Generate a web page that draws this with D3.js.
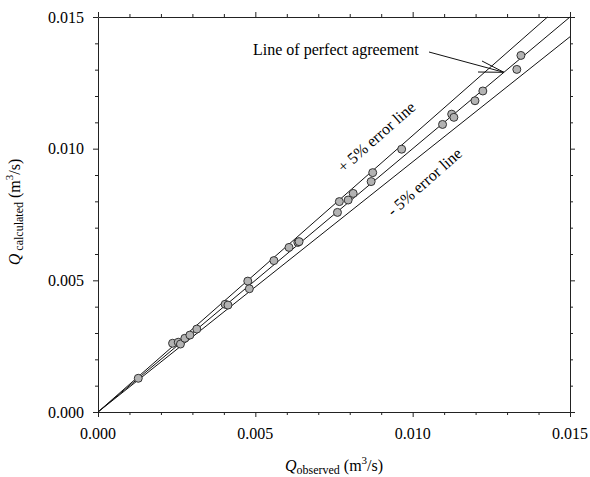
<!DOCTYPE html>
<html>
<head>
<meta charset="utf-8">
<script src="https://cdn.jsdelivr.net/npm/d3@7"></script>
<style>
  body { margin: 0; background: #fff; }
</style>
</head>
<body>
<div id="chart"></div>
<script>
// measured vs computed discharge (m3/s)
var qObserved = [0.00128, 0.00237, 0.00255, 0.00262, 0.00276, 0.00292, 0.00314,
  0.00404, 0.00413, 0.00476, 0.00481, 0.00559, 0.00607, 0.00635, 0.00639,
  0.00761, 0.00767, 0.00795, 0.00811, 0.00868, 0.00873, 0.00965,
  0.01095, 0.01124, 0.01131, 0.01198, 0.01223, 0.01331, 0.01344];
var qCalculated = [0.00128, 0.00261, 0.00265, 0.00258, 0.00280, 0.00292, 0.00315,
  0.00409, 0.00406, 0.00497, 0.00468, 0.00575, 0.00625, 0.00644, 0.00647,
  0.00758, 0.00799, 0.00805, 0.00830, 0.00875, 0.00909, 0.00998,
  0.01092, 0.01131, 0.01119, 0.01182, 0.01219, 0.01301, 0.01354];

var majorTicks = [0, 0.005, 0.010, 0.015];
var minorTicks = d3.range(0, 16).map(function (i) { return i / 1000; });
var lineFactors = [1, 1.05, 0.95];

var width = 590, height = 477;
var margin = { top: 17, right: 20, bottom: 65, left: 98 };
var serif = "'Liberation Serif', 'DejaVu Serif', serif";

var svg = d3.select("#chart")
  .append("svg")
  .attr("width", width)
  .attr("height", height)
  .attr("font-family", serif);

var x = d3.scaleLinear().domain([0, 0.015]).range([margin.left, width - margin.right]);
var y = d3.scaleLinear().domain([0, 0.015]).range([height - margin.bottom, margin.top]);

var fmt = d3.format(".3f");

// axes on all four sides, ticks outward
function tickSize(d) {
  return majorTicks.some(function (m) { return Math.abs(m - d) < 1e-9; }) ? 5 : 3;
}

svg.append("g")
  .attr("transform", "translate(0," + y(0) + ")")
  .call(d3.axisBottom(x).tickValues(minorTicks).tickSizeOuter(0).tickFormat(""))
  .call(function (g) { g.selectAll(".tick line").attr("y2", function (d) { return tickSize(d); }); });
svg.append("g")
  .attr("transform", "translate(0," + y(0.015) + ")")
  .call(d3.axisTop(x).tickValues(minorTicks).tickSizeOuter(0).tickFormat(""))
  .call(function (g) { g.selectAll(".tick line").attr("y2", function (d) { return -tickSize(d); }); });
svg.append("g")
  .attr("transform", "translate(" + x(0) + ",0)")
  .call(d3.axisLeft(y).tickValues(minorTicks).tickSizeOuter(0).tickFormat(""))
  .call(function (g) { g.selectAll(".tick line").attr("x2", function (d) { return -tickSize(d); }); });
svg.append("g")
  .attr("transform", "translate(" + x(0.015) + ",0)")
  .call(d3.axisRight(y).tickValues(minorTicks).tickSizeOuter(0).tickFormat(""))
  .call(function (g) { g.selectAll(".tick line").attr("x2", function (d) { return tickSize(d); }); });

svg.selectAll(".domain").attr("stroke", "#222");
svg.selectAll(".tick line").attr("stroke", "#222");

// tick labels
svg.append("g").selectAll("text")
  .data(majorTicks)
  .enter()
  .append("text")
  .attr("x", function (d) { return x(d); })
  .attr("y", y(0) + 27)
  .attr("text-anchor", "middle")
  .attr("font-family", serif)
  .attr("font-size", 16)
  .text(fmt);

svg.append("g").selectAll("text")
  .data(majorTicks)
  .enter()
  .append("text")
  .attr("x", x(0) - 14)
  .attr("y", function (d) { return y(d) + 5.5; })
  .attr("text-anchor", "end")
  .attr("font-family", serif)
  .attr("font-size", 16)
  .text(fmt);

// reference lines
var lineGroup = svg.append("g");
lineFactors.forEach(function (f) {
  var xEnd = Math.min(0.015, 0.015 / f);
  lineGroup.append("line")
    .attr("x1", x(0)).attr("y1", y(0))
    .attr("x2", x(xEnd)).attr("y2", y(xEnd * f))
    .attr("stroke", "#111")
    .attr("stroke-width", 1);
});

// data points
var points = qObserved.map(function (d, i) { return { obs: d, calc: qCalculated[i] }; });
svg.append("g").selectAll("circle")
  .data(points)
  .enter()
  .append("circle")
  .attr("cx", function (d) { return x(d.obs); })
  .attr("cy", function (d) { return y(d.calc); })
  .attr("r", 4)
  .attr("fill", "#b3b3b3")
  .attr("stroke", "#333")
  .attr("stroke-width", 1);

// annotation for perfect agreement line
var tip = [x(0.01290), y(0.01290)];
svg.append("text")
  .attr("x", 253).attr("y", 55)
  .attr("font-family", serif)
  .attr("font-size", 16)
  .text("Line of perfect agreement");
[[429, 52], [482, 61], [478, 72]].forEach(function (p) {
  svg.append("line")
    .attr("x1", p[0]).attr("y1", p[1])
    .attr("x2", tip[0]).attr("y2", tip[1])
    .attr("stroke", "#111");
});

// error line labels
svg.append("text")
  .attr("transform", "translate(380,141) rotate(-41.5)")
  .attr("text-anchor", "middle")
  .attr("font-family", serif)
  .attr("font-size", 16)
  .text("+ 5% error line");
svg.append("text")
  .attr("transform", "translate(428,186) rotate(-41.5)")
  .attr("text-anchor", "middle")
  .attr("font-family", serif)
  .attr("font-size", 16)
  .text("- 5% error line");

// axis titles
var xTitle = svg.append("text")
  .attr("x", 334).attr("y", 471)
  .attr("text-anchor", "middle")
  .attr("font-family", serif)
  .attr("font-size", 16);
xTitle.append("tspan").attr("font-style", "italic").text("Q");
xTitle.append("tspan").attr("dy", 3).attr("font-size", 12).text("observed");
xTitle.append("tspan").attr("dy", -3).text(" (m");
xTitle.append("tspan").attr("dy", -7).attr("font-size", 11).text("3");
xTitle.append("tspan").attr("dy", 7).text("/s)");

var yTitle = svg.append("text")
  .attr("transform", "translate(19.5,212) rotate(-90)")
  .attr("text-anchor", "middle")
  .attr("font-family", serif)
  .attr("font-size", 16);
yTitle.append("tspan").attr("font-style", "italic").text("Q");
yTitle.append("tspan").attr("dy", 3).attr("font-size", 12).text(" calculated");
yTitle.append("tspan").attr("dy", -3).text(" (m");
yTitle.append("tspan").attr("dy", -7).attr("font-size", 11).text("3");
yTitle.append("tspan").attr("dy", 7).text("/s)");
</script>
</body>
</html>
